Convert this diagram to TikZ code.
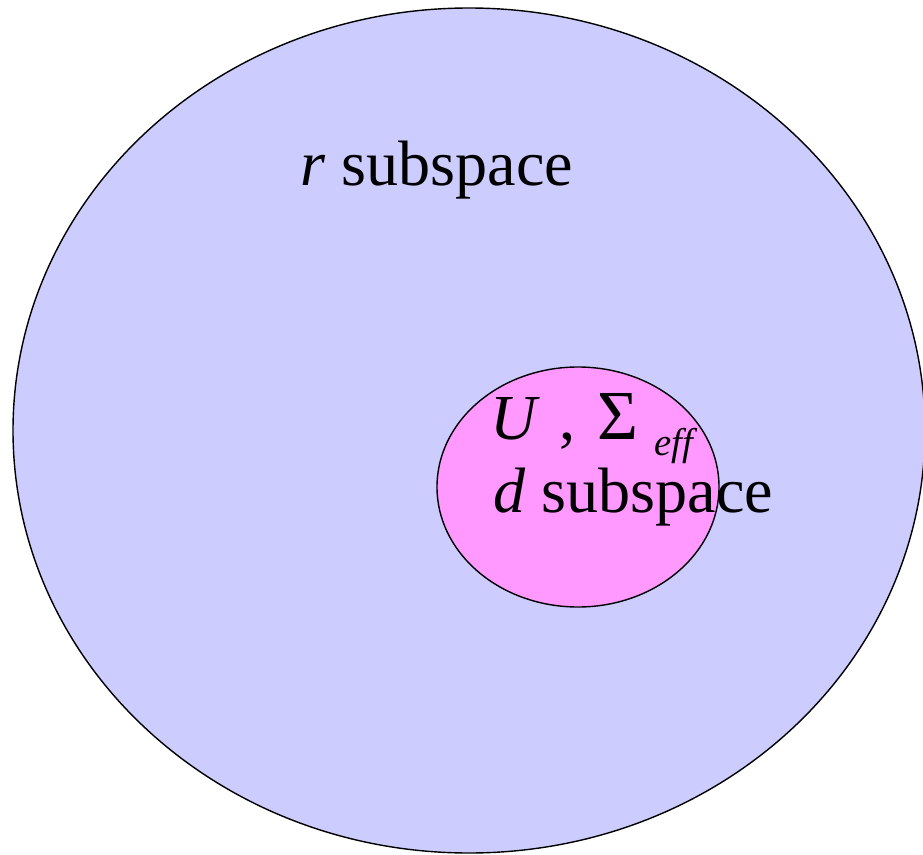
\documentclass[tikz,border=0pt]{standalone}
\usepackage{fontspec}
\setmainfont{Liberation Serif}
\usepackage{tikz}
\definecolor{outerfill}{HTML}{CCCCFF}
\definecolor{innerfill}{HTML}{FF99FF}

\begin{document}
\begin{tikzpicture}[
  x=0.02cm, y=-0.02cm,
  font=\fontsize{36.5}{43}\selectfont,
  setshape/.style={draw, line width=0.8pt},
  label/.style={anchor=base west, inner sep=0pt}
]
  \clip (0,0) rectangle (923,855);
  \draw[setshape, fill=outerfill] (469,430.5) ellipse [x radius=456, y radius=422.5];
  \draw[setshape, fill=innerfill] (578,487) ellipse [x radius=141, y radius=120];

  \node[label] (rsub) at (300,185) {\textit{r} subspace};
  \node[label] (usig) at (490,439) {\textit{U}\hspace{0.3em},\hspace{0.35em}{\fontsize{40}{43}\selectfont Σ}\hspace{0.25em}\raisebox{-0.25em}{\fontsize{22}{26}\selectfont\textit{eff}}};
  \node[label] (dsub) at (493,512) {\textit{d} subspace};
\end{tikzpicture}
\end{document}
